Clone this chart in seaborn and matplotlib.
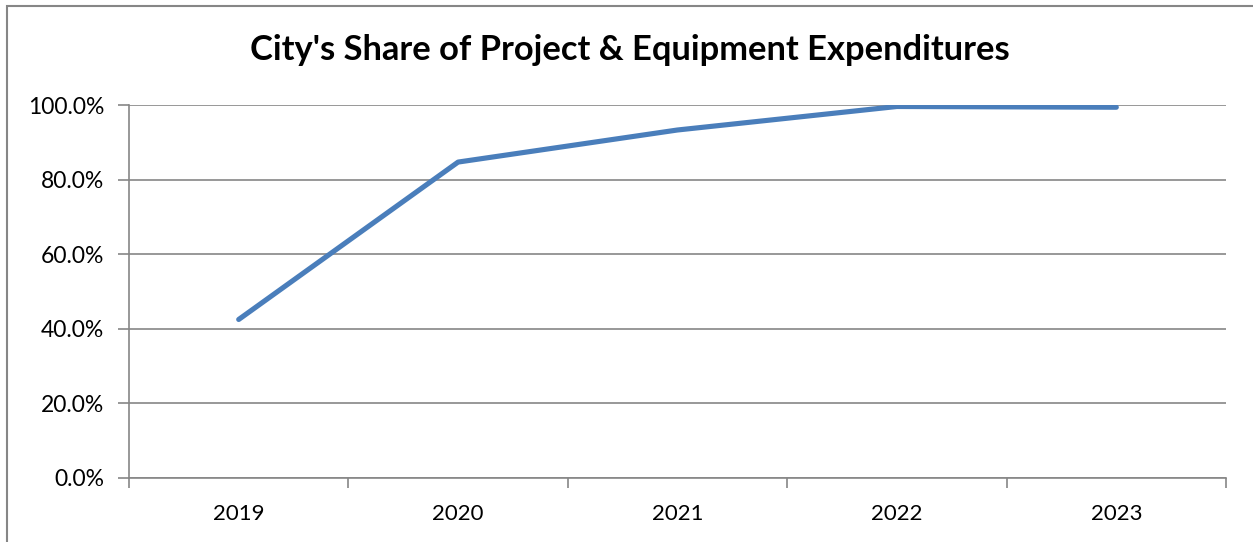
import matplotlib
matplotlib.use("Agg")
import matplotlib.pyplot as plt
import matplotlib.patches as mpatches
from matplotlib.ticker import FixedLocator, PercentFormatter
import seaborn as sns
import pandas as pd

years = ["2019", "2020", "2021", "2022", "2023"]
share = [42.5, 84.7, 93.3, 99.6, 99.4]

sns.set_theme(style="white")
plt.rcParams['font.family'] = ['Lato', 'DejaVu Sans']

W, H = 1253, 542
fig = plt.figure(figsize=(W / 100, H / 100), dpi=100)
ax = fig.add_axes([129 / W, 1 - 478 / H, (1226 - 129) / W, (478 - 105) / H])

df = pd.DataFrame({"pos": range(len(years)), "share": share})
sns.lineplot(data=df, x="pos", y="share", ax=ax, color="#4A7EBB", linewidth=3.7,
             solid_capstyle="round", solid_joinstyle="round")

ax.set_xlim(-0.5, len(years) - 0.5)
ax.set_ylim(0, 100)
ax.set_yticks([0, 20, 40, 60, 80, 100])
ax.yaxis.set_major_formatter(PercentFormatter(decimals=1))
ax.yaxis.grid(True, color="#868686", linewidth=1.2)
ax.set_axisbelow(True)

ax.set_xticks(range(len(years)))
ax.set_xticklabels(years)
ax.xaxis.set_minor_locator(FixedLocator([i - 0.5 for i in range(len(years) + 1)]))
ax.tick_params(axis="x", which="major", length=0, pad=19, labelsize=16, labelcolor="black")
ax.tick_params(axis="x", which="minor", length=7, width=1.2, color="#868686", direction="out", bottom=True)
ax.tick_params(axis="y", length=8, width=1.2, color="#868686", direction="out", left=True, pad=10,
               labelsize=16.5, labelcolor="black")

for s in ["top", "right"]:
    ax.spines[s].set_visible(False)
for s in ["left", "bottom"]:
    ax.spines[s].set_color("#868686")
    ax.spines[s].set_linewidth(1.2)

ax.set_xlabel("")
ax.set_ylabel("")

fig.text(630 / W, 1 - 50 / H, "City's Share of Project & Equipment Expenditures",
         ha="center", va="center", fontsize=24.8, fontweight="bold", color="black")

border = mpatches.Rectangle((7 / W, -0.05), 1.1, 1 - 6 / H + 0.05, transform=fig.transFigure,
                            fill=False, edgecolor="#868686", linewidth=1.5)
fig.patches.append(border)

fig.savefig("out.png", dpi=100, facecolor="white")
